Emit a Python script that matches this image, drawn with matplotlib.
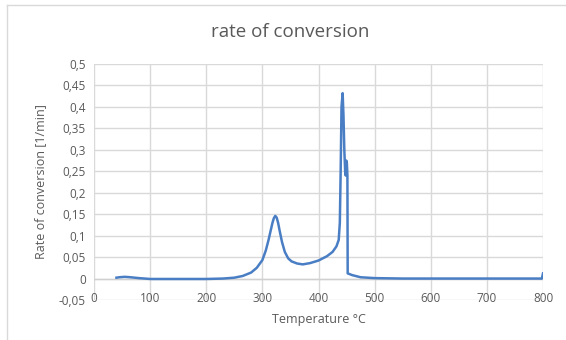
import matplotlib
matplotlib.use("Agg")
import matplotlib.pyplot as plt
from matplotlib.ticker import FuncFormatter, MultipleLocator
from matplotlib.lines import Line2D

# temperature [°C] and rate of conversion [1/min]
temp = [40, 45, 55, 65, 80, 100, 130, 160, 200, 230, 250, 265, 280, 290, 300,
        306, 311, 315, 318, 320.5, 323, 325.5, 328, 331, 335, 340, 346, 352,
        362, 372, 385, 400, 415, 425, 432, 436, 438, 439.5, 441, 443, 444.5,
        446, 447.5, 448.5, 449.5, 450.5, 451.5, 452, 460, 475, 500, 550, 600,
        650, 700, 750, 798, 800]
rate = [0.002, 0.003, 0.004, 0.003, 0.001, -0.001, -0.001, -0.001, -0.001,
        0.0, 0.002, 0.006, 0.014, 0.025, 0.043, 0.065, 0.09, 0.113, 0.13,
        0.141, 0.146, 0.142, 0.13, 0.11, 0.085, 0.062, 0.047, 0.04, 0.035,
        0.033, 0.036, 0.042, 0.052, 0.062, 0.075, 0.09, 0.13, 0.25, 0.40,
        0.432, 0.38, 0.30, 0.25, 0.24, 0.275, 0.27, 0.24, 0.012, 0.008,
        0.003, 0.001, 0.0, 0.0, 0.0, 0.0, 0.0, 0.0, 0.012]

grey = "#595959"
plt.rcParams["font.family"] = ["Open Sans", "DejaVu Sans"]

fig = plt.figure(figsize=(5.66, 3.4), dpi=100)
ax = fig.add_axes([94 / 566, 1 - 300 / 340, 449 / 566, 236 / 340])

ax.plot(temp, rate, color="#4a7ec4", lw=1.8, solid_joinstyle="round")

ax.set_xlim(0, 800)
ax.set_ylim(-0.05, 0.5)
ax.xaxis.set_major_locator(MultipleLocator(100))
ax.yaxis.set_major_locator(MultipleLocator(0.05))
ax.yaxis.set_major_formatter(FuncFormatter(lambda v, p: ("%g" % round(v, 2)).replace(".", ",")))
ax.grid(True, color="#d9d9d9", lw=1)
ax.set_axisbelow(True)
for s in ax.spines.values():
    s.set_visible(False)
ax.axhline(0, color="#d0d0d0", lw=1, zorder=1)
ax.tick_params(length=0, labelsize=8.5, labelcolor=grey)
ax.tick_params(axis="x", pad=-6)
ax.tick_params(axis="y", pad=6)

fig.text(290 / 566, 1 - 32 / 340, "rate of conversion", fontsize=13.5, color=grey,
         ha="center", va="center")
ax.set_xlabel("Temperature °C", fontsize=9, color=grey, labelpad=6)
ax.set_ylabel("Rate of conversion [1/min]", fontsize=9, color=grey, labelpad=8)

# chart frame
fig.add_artist(Line2D([7 / 566, 1], [1 - 5 / 340, 1 - 5 / 340], color="#d9d9d9", lw=1))
fig.add_artist(Line2D([7 / 566, 7 / 566], [0, 1 - 5 / 340], color="#d9d9d9", lw=1))

fig.savefig("out.png", dpi=100)
